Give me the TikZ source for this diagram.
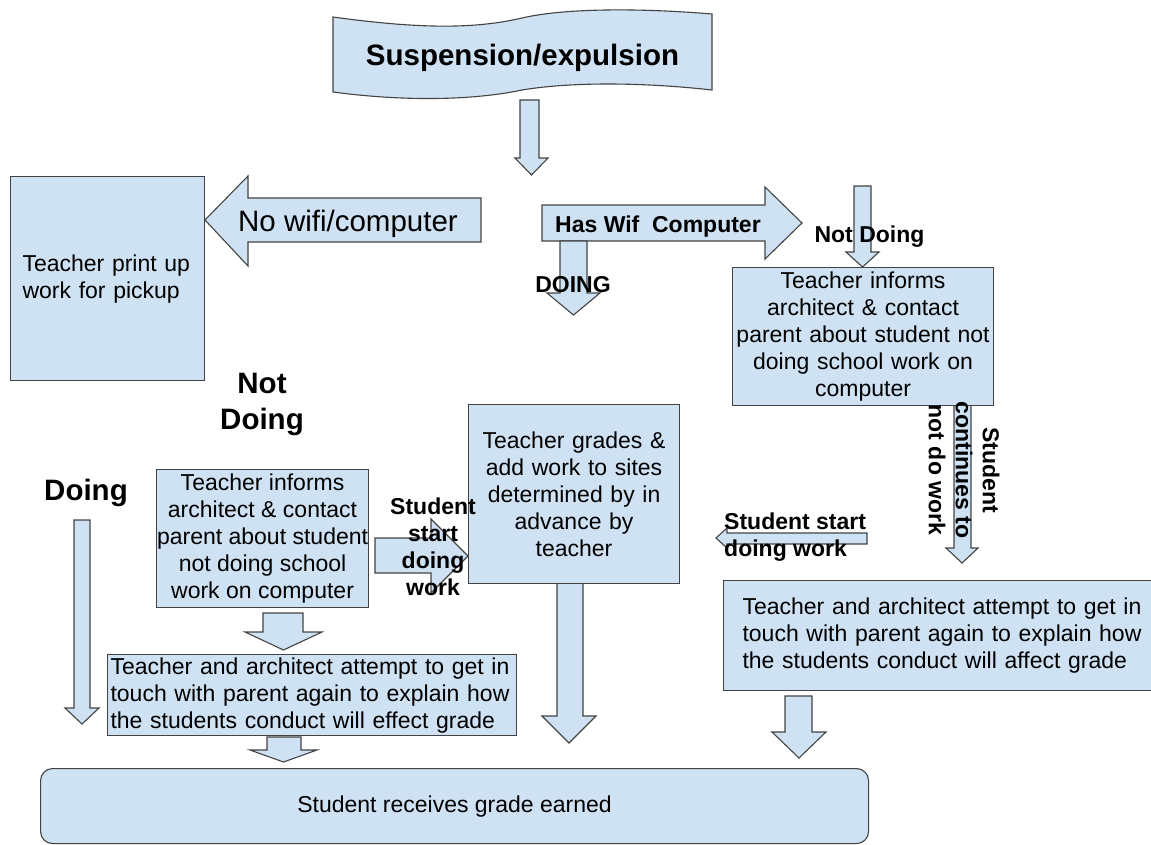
\documentclass[tikz,border=0pt]{standalone}
\usepackage{fontspec}
\setmainfont{Liberation Sans}
\definecolor{fillb}{HTML}{CFE2F3}
\definecolor{edge}{HTML}{434343}
\newcommand\fbody{\fontsize{23}{27}\selectfont}
\newcommand\fsb{\fontsize{23}{27}\selectfont\bfseries}
\newcommand\fbig{\fontsize{29.5}{36}\selectfont}
\newcommand\fbigb{\fontsize{29.5}{36}\selectfont\bfseries}
\tikzset{
  blk/.style={fill=fillb, draw=edge, line width=1.1pt, line join=miter},
  box/.style={blk, inner sep=0pt, font=\fbody, anchor=north west},
  lbl/.style={inner sep=0pt, font=\fsb},
}
% down block arrow: shaftL, shaftR, top, shaftBottom, headL, headR, tip
\newcommand\blkdown[7]{\filldraw[blk] (#1,#3) -- (#2,#3) -- (#2,#4) -- (#6,#4) -- ({(#5+#6)/2},#7) -- (#5,#4) -- (#1,#4) -- cycle;}
% horizontal block arrow: tipx, tipy, headbase, headTop, headBottom, shaftTop, shaftBottom, shaftEnd
\newcommand\blkh[8]{\filldraw[blk] (#1,#2) -- (#3,#4) -- (#3,#6) -- (#8,#6) -- (#8,#7) -- (#3,#7) -- (#3,#5) -- cycle;}
\begin{document}
\begin{tikzpicture}[x=1pt,y=-1pt]
\useasboundingbox (0,0) rectangle (1151,844);

% banner
\filldraw[blk] (333,17) .. controls (420,29) and (475,29) .. (522,18)
  .. controls (565,8) and (640,8) .. (712,14) -- (712,90)
  .. controls (640,82) and (570,82) .. (522,90)
  .. controls (470,101) and (400,101) .. (333,92) -- cycle;
\node[inner sep=0pt, font=\fbigb, anchor=base] (susp) at (522.5,65) {Suspension/expulsion};

% block arrows
\blkdown{520}{539}{100}{158}{515}{548}{175}
\blkh{205}{220}{248}{176}{266}{198}{242}{481}
\blkh{802}{223}{765}{187}{259}{205}{241}{542}
\blkdown{560}{587}{241}{293}{547}{600}{315}
\blkdown{854}{871}{186}{252}{846}{879}{267}
\blkdown{954}{971}{405}{548}{946}{978}{563}
\blkdown{74}{90}{520}{708}{65}{99}{724}
\blkdown{263}{303}{613}{632}{245}{322}{650}
\blkdown{267}{301}{737}{750}{250}{317}{762}
\blkdown{557}{583}{583}{716}{542}{596}{743}
\blkdown{785}{812}{696}{732}{772}{826}{758}
\blkh{468}{556}{431}{519}{593}{538}{573}{375}
\blkh{716}{538}{727}{528}{548}{533}{544}{867}

% boxes
\node[box, minimum width=194pt, minimum height=204pt, text width=170pt, align=left] (print) at (10,176)
  {Teacher print up\\work for pickup};
\node[box, minimum width=261pt, minimum height=138pt, text width=258pt, align=center] (infoR) at (732,267)
  {Teacher informs\\architect \& contact\\parent about student not\\doing school work on\\computer};
\node[box, minimum width=211pt, minimum height=179pt, text width=205pt, align=center] (grade) at (468,404)
  {Teacher grades \&\\add work to sites\\determined by in\\advance by\\teacher};
\node[box, minimum width=212pt, minimum height=138pt] (infoL) at (156,469) {};
\node[inner sep=0pt, font=\fbody, align=center] (infoLt) at (infoL.center)
  {Teacher informs\\architect \& contact\\parent about student\\not doing school\\work on computer};
\node[box, minimum width=409pt, minimum height=81pt, text width=403pt, align=left] (againL) at (107,654)
  {Teacher and architect attempt to get in\\touch with parent again to explain how\\the students conduct will effect grade};
\node[box, minimum width=438pt, minimum height=110pt, text width=400pt, align=left] (againR) at (723,580)
  {Teacher and architect attempt to get in\\touch with parent again to explain how\\the students conduct will affect grade};
\node[box, rounded corners=12pt, minimum width=828pt, minimum height=75pt] (earned) at (40,768)
  {Student receives grade earned};

% labels
\node[inner sep=0pt, font=\fbig, anchor=base] (nowifi) at (348,231) {No wifi/computer};
\node[lbl, anchor=base west] (haswif) at (555,232) {Has Wif\ \ Computer};
\node[lbl, anchor=base] (doingA) at (573,292) {DOING};
\node[lbl, anchor=base] (notdoingR) at (869.5,242) {Not Doing};
\node[inner sep=0pt, font=\fbigb, align=center] (notdoingL) at (262,404) {Not\\Doing};
\node[inner sep=0pt, font=\fbigb, anchor=base] (doingL) at (86,500) {Doing};
\node[lbl, align=center] (startC) at (433,547) {Student\\start\\doing\\work};
\node[lbl, align=left, anchor=west] (startR) at (724,537.5) {Student start\\doing work};
\node[lbl, align=center, rotate=-90] (cont) at (964,470) {Student\\continues to\\not do work};
\end{tikzpicture}
\end{document}
